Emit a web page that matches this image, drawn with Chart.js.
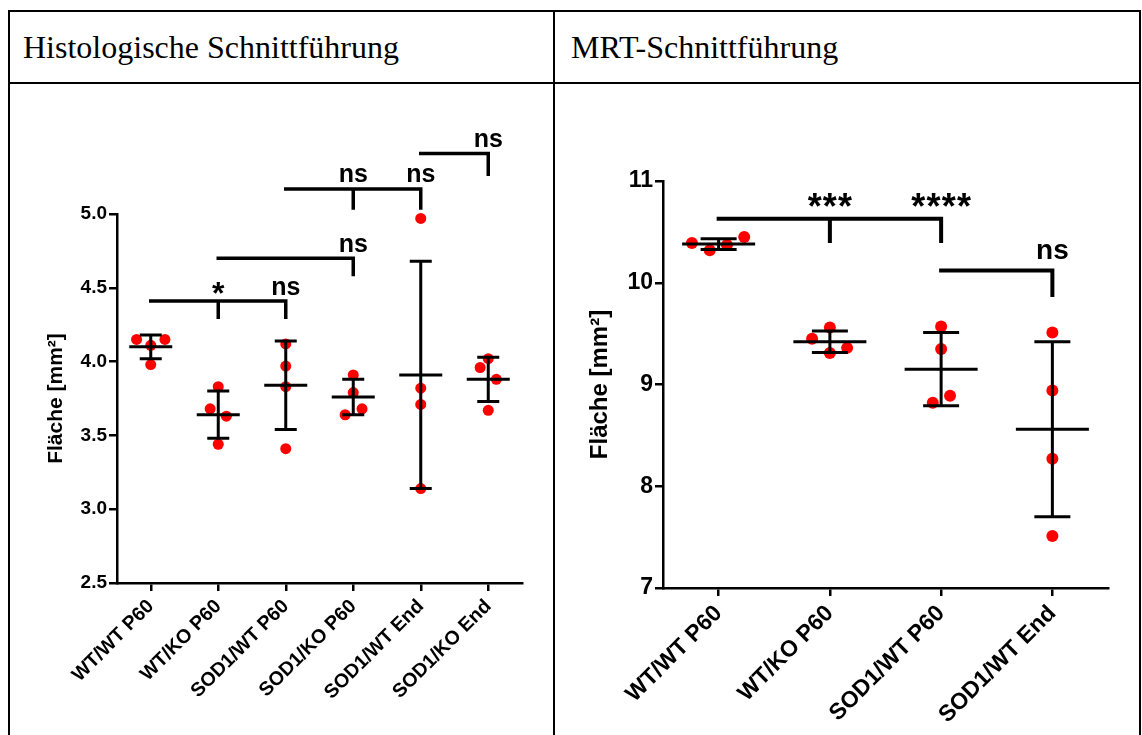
<!DOCTYPE html>
<html>
<head>
<meta charset="utf-8">
<script src="https://cdn.jsdelivr.net/npm/chart.js@4.4.1/dist/chart.umd.min.js"></script>
<style>
  body { margin: 0; background: #fff; }
  .rule { position: absolute; background: #000; }
  .head { position: absolute; top: 31px; font: 32px "Liberation Serif", "Times New Roman", serif; line-height: 32px; color: #000; white-space: nowrap; }
  canvas { position: absolute; }
</style>
</head>
<body>
<div class="rule" style="left:8px;top:10px;width:1133px;height:2px"></div>
<div class="rule" style="left:8px;top:82px;width:1133px;height:2px"></div>
<div class="rule" style="left:8px;top:10px;width:2px;height:725px"></div>
<div class="rule" style="left:553px;top:10px;width:2px;height:725px"></div>
<div class="rule" style="left:1139px;top:10px;width:2px;height:725px"></div>
<div class="head" style="left:23px">Histologische Schnittführung</div>
<div class="head" style="left:571px">MRT-Schnittführung</div>

<canvas id="histChart" width="541" height="650" style="left:11px;top:85px"></canvas>
<canvas id="mrtChart" width="583" height="650" style="left:556px;top:85px"></canvas>

<script>
// Histologische Schnittführung
const histGroups = ["WT/WT P60", "WT/KO P60", "SOD1/WT P60", "SOD1/KO P60", "SOD1/WT End", "SOD1/KO End"];
const histValues = [
  [4.15, 4.11, 4.15, 3.98],
  [3.83, 3.68, 3.63, 3.44],
  [4.12, 3.97, 3.83, 3.41],
  [3.91, 3.79, 3.68, 3.64],
  [4.97, 3.82, 3.71, 3.14],
  [4.02, 3.96, 3.88, 3.67],
];
const histMean = [4.10, 3.64, 3.84, 3.76, 3.91, 3.88];
const histSD = [0.08, 0.16, 0.30, 0.12, 0.77, 0.15];
const histTicks = [2.5, 3.0, 3.5, 4.0, 4.5, 5.0];
// [start group, drop groups, bracket level, drop end, labels]
const histBrackets = [
  [0, [1, 2], 4.41, 4.30, ["*", "ns"]],
  [1, [3], 4.70, 4.59, ["ns"]],
  [2, [3, 4], 5.17, 5.04, ["ns", "ns"]],
  [4, [5], 5.41, 5.27, ["ns"]],
];

// MRT-Schnittführung
const mrtGroups = ["WT/WT P60", "WT/KO P60", "SOD1/WT P60", "SOD1/WT End"];
const mrtValues = [
  [10.39, 10.32, 10.37, 10.45],
  [9.45, 9.56, 9.36, 9.31],
  [9.57, 9.35, 8.89, 8.82],
  [9.51, 8.94, 8.27, 7.51],
];
const mrtMean = [10.38, 9.42, 9.15, 8.56];
const mrtSD = [0.053, 0.105, 0.36, 0.86];
const mrtTicks = [7, 8, 9, 10, 11];
const mrtBrackets = [
  [0, [1, 2], 10.63, 10.41, ["***", "****"]],
  [2, [3], 10.12, 9.88, ["ns"]],
];

// horizontal spread of overlapping dots (category units)
const histSpread = [
  [-0.21, 0, 0.21, 0], [0, -0.12, 0.12, 0], [0, 0, 0, 0],
  [0, 0, 0.13, -0.12], [0, 0, 0, 0], [0, -0.12, 0.12, 0],
];
const mrtSpread = [
  [-0.24, -0.08, 0.075, 0.23], [-0.16, 0, 0.155, 0], [0, 0, 0.08, -0.075], [0, 0, 0, 0],
];

const FONT = "'Liberation Sans', Arial, sans-serif";

function statsPlugin(s) {
  return {
    id: "stats",
    afterDatasetsDraw(chart) {
      const { ctx, scales: { x, y } } = chart;
      ctx.save();
      ctx.strokeStyle = "#000";
      ctx.fillStyle = "#000";
      ctx.lineWidth = s.barWidth;
      s.mean.forEach((m, i) => {
        const px = x.getPixelForValue(i);
        const my = y.getPixelForValue(m);
        const top = y.getPixelForValue(m + s.sd[i]);
        const bot = y.getPixelForValue(m - s.sd[i]);
        ctx.beginPath();
        ctx.moveTo(px, top); ctx.lineTo(px, bot);
        ctx.moveTo(px - s.meanHalf, my); ctx.lineTo(px + s.meanHalf, my);
        ctx.moveTo(px - s.capHalf, top); ctx.lineTo(px + s.capHalf, top);
        ctx.moveTo(px - s.capHalf, bot); ctx.lineTo(px + s.capHalf, bot);
        ctx.stroke();
      });

      ctx.lineWidth = s.bracketWidth;
      ctx.lineCap = "square";
      ctx.textAlign = "center";
      ctx.textBaseline = "alphabetic";
      s.brackets.forEach(([from, drops, level, end, labels]) => {
        const ly = y.getPixelForValue(level);
        const ey = y.getPixelForValue(end);
        const x0 = x.getPixelForValue(from);
        const x1 = x.getPixelForValue(drops[drops.length - 1]);
        ctx.beginPath();
        ctx.moveTo(x0, ly); ctx.lineTo(x1, ly);
        drops.forEach((d) => {
          const dx = x.getPixelForValue(d);
          ctx.moveTo(dx, ly); ctx.lineTo(dx, ey);
        });
        ctx.stroke();
        drops.forEach((d, k) => {
          const dx = x.getPixelForValue(d);
          const txt = labels[k];
          if (txt[0] === "*") {
            ctx.font = "bold " + s.starSize + "px " + FONT;
            const base = ly - s.starGap + 0.57 * s.starSize;
            const w = s.starStep * (txt.length - 1);
            for (let c = 0; c < txt.length; c++) {
              ctx.fillText("*", dx - w / 2 + c * s.starStep, base);
            }
          } else {
            ctx.font = "bold " + s.labelSize + "px " + FONT;
            ctx.fillText(txt, dx, ly - s.nsGap);
          }
        });
      });
      ctx.restore();
    },
  };
}

function makeChart(id, o) {
  const points = o.values.flatMap((vals, i) =>
    vals.map((v, j) => ({ x: i + o.spread[i][j], y: v }))
  );
  return new Chart(document.getElementById(id), {
    type: "scatter",
    data: {
      datasets: [{
        data: points,
        backgroundColor: "#ff0000",
        borderWidth: 0,
        pointRadius: o.dot,
        pointHoverRadius: o.dot,
        clip: false,
      }],
    },
    options: {
      responsive: false,
      animation: false,
      events: [],
      layout: { padding: o.padding },
      plugins: { legend: { display: false }, tooltip: { enabled: false } },
      scales: {
        x: {
          type: "linear",
          min: -0.5,
          max: o.groups.length - 0.5,
          afterBuildTicks: (sc) => { sc.ticks = o.groups.map((g, i) => ({ value: i })); },
          afterFit: (sc) => { sc.height = 140; sc.paddingLeft = 0; sc.paddingRight = 0; },
          border: { color: "#000", width: 2.5 },
          grid: { drawOnChartArea: false, drawTicks: true, tickLength: 8, color: "#000", lineWidth: 2.5 },
          ticks: {
            color: "#000",
            font: { family: FONT, weight: "bold", size: o.xFont },
            maxRotation: 45,
            minRotation: 45,
            padding: 4,
            autoSkip: false,
            callback: (v) => o.groups[v],
          },
        },
        y: {
          min: o.ticks[0],
          max: o.ticks[o.ticks.length - 1],
          afterBuildTicks: (sc) => { sc.ticks = o.ticks.map((t) => ({ value: t })); },
          afterFit: (sc) => { sc.width = 80; sc.paddingTop = 0; sc.paddingBottom = 0; },
          border: { color: "#000", width: 2.5 },
          grid: { drawOnChartArea: false, drawTicks: true, tickLength: 8, color: "#000", lineWidth: 2.5 },
          ticks: {
            color: "#000",
            font: { family: FONT, weight: "bold", size: o.yFont },
            padding: 2,
            callback: o.fmt,
          },
          title: {
            display: true,
            text: "Fläche [mm²]",
            color: "#000",
            font: { family: FONT, weight: "bold", size: o.titleFont },
            padding: { top: o.titlePad, bottom: 0 },
          },
        },
      },
    },
    plugins: [statsPlugin(o.stats)],
  });
}

makeChart("histChart", {
  groups: histGroups, values: histValues, spread: histSpread, ticks: histTicks,
  fmt: (v) => v.toFixed(1),
  dot: 5.5, xFont: 19.5, yFont: 19, titleFont: 21, titlePad: 7,
  padding: { left: 26, top: 129, right: 30, bottom: 12 },
  stats: {
    mean: histMean, sd: histSD, brackets: histBrackets,
    barWidth: 3, meanHalf: 21.5, capHalf: 11, bracketWidth: 3.5,
    labelSize: 25, nsGap: 6.5, starSize: 32, starGap: 15, starStep: 14,
  },
});

makeChart("mrtChart", {
  groups: mrtGroups, values: mrtValues, spread: mrtSpread, ticks: mrtTicks,
  fmt: (v) => String(v),
  dot: 6, xFont: 23, yFont: 23, titleFont: 24, titlePad: 3,
  padding: { left: 27, top: 96, right: 31, bottom: 7 },
  stats: {
    mean: mrtMean, sd: mrtSD, brackets: mrtBrackets,
    barWidth: 3, meanHalf: 36.5, capHalf: 18, bracketWidth: 4,
    labelSize: 28, nsGap: 12, starSize: 36, starGap: 20, starStep: 15.2,
  },
});
</script>
</body>
</html>
